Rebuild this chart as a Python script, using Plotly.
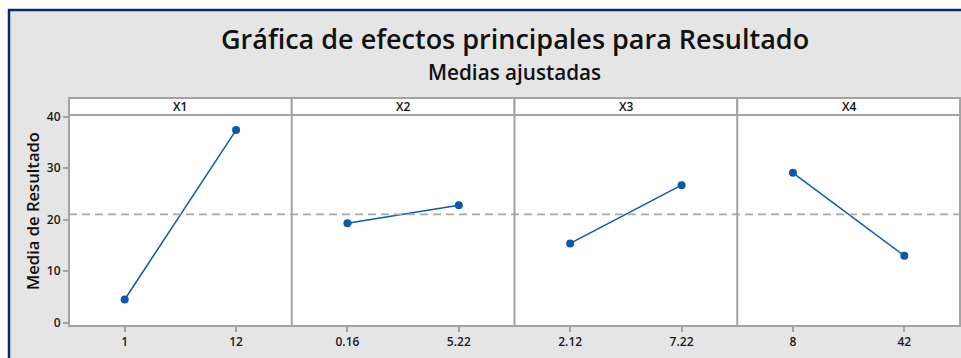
import plotly.graph_objects as go
from plotly.subplots import make_subplots

# Factors and their two levels
factors = ["X1", "X2", "X3", "X4"]
levels = [["1", "12"], ["0.16", "5.22"], ["2.12", "7.22"], ["8", "42"]]

# Fitted means of Resultado at each level
means_x1 = [4.5, 37.4]
means_x2 = [19.3, 22.8]
means_x3 = [15.4, 26.7]
means_x4 = [29.1, 13.0]
level_means = [means_x1, means_x2, means_x3, means_x4]

y_ticks = [0, 10, 20, 30, 40]

# Grand mean of the response (reference line)
grand_mean = sum(sum(m) for m in level_means) / sum(len(m) for m in level_means)

FONT = "Open Sans"
LINE_BLUE = "#0b5aa9"
FRAME = "#a3a3a3"
BG = "#e5e5e5"
NAVY = "#0a2a6b"
TXT = "#111111"

W, H = 961, 358
ML, MR, MT, MB = 69, 1, 98, 32
PW = W - ML - MR
PH = H - MT - MB
HEADER = 17
top_dom = (PH - HEADER) / PH


def px_x(px):
    return (px - ML) / PW


def px_y(py):
    return (H - MB - py) / PH


fig = make_subplots(rows=1, cols=4, shared_yaxes=True, horizontal_spacing=0)

for i, (lv, m) in enumerate(zip(levels, level_means)):
    fig.add_trace(
        go.Scatter(
            x=lv, y=m, mode="lines+markers",
            line=dict(color=LINE_BLUE, width=1.5),
            marker=dict(color=LINE_BLUE, size=8),
            showlegend=False, hoverinfo="x+y",
        ),
        row=1, col=i + 1,
    )
    fig.update_xaxes(
        type="category", range=[-0.5, 1.5],
        showline=False,
        ticks="outside", ticklen=5, tickwidth=1.5, tickcolor=FRAME,
        showgrid=False, zeroline=False,
        tickfont=dict(family=FONT, size=12, color="#1a1a1a", weight=600),
        row=1, col=i + 1,
    )
    fig.update_yaxes(
        range=[-0.64, 40.33], domain=[0, top_dom],
        showline=False, showgrid=False, zeroline=False,
        row=1, col=i + 1,
    )

fig.update_yaxes(
    tickvals=y_ticks, ticks="outside", ticklen=5, tickwidth=1.5, tickcolor=FRAME,
    tickfont=dict(family=FONT, size=12, color="#1a1a1a", weight=600),
    row=1, col=1,
)

shapes = []
annotations = []

# Reference line at the grand mean across all panels
shapes.append(dict(
    type="line", xref="paper", yref="y", x0=0, x1=1, y0=grand_mean, y1=grand_mean,
    line=dict(color="#a8a8a8", width=1.6, dash="8px,5px"), layer="above",
))

# Plot frame and panel dividers
shapes.append(dict(
    type="rect", xref="paper", yref="paper", x0=0, x1=1, y0=0, y1=top_dom,
    fillcolor="rgba(0,0,0,0)", line=dict(color=FRAME, width=2), layer="above",
))
for k in range(1, 4):
    shapes.append(dict(
        type="line", xref="paper", yref="paper", x0=k / 4, x1=k / 4, y0=0, y1=top_dom,
        line=dict(color=FRAME, width=2), layer="above",
    ))

# Panel header strips
for i, name in enumerate(factors):
    x0, x1 = i / 4, (i + 1) / 4
    shapes.append(dict(
        type="rect", xref="paper", yref="paper", x0=x0, x1=x1, y0=top_dom, y1=1,
        fillcolor="white", line=dict(color=FRAME, width=2),
    ))
    annotations.append(dict(
        text=name, xref="paper", yref="paper", x=(x0 + x1) / 2, y=(top_dom + 1) / 2,
        showarrow=False, xanchor="center", yanchor="middle",
        font=dict(family=FONT, size=12, color=TXT, weight=600),
    ))

# Outer frame: white margin and navy edge
shapes.append(dict(type="rect", xref="paper", yref="paper",
                   x0=px_x(-20), x1=px_x(8), y0=px_y(400), y1=px_y(-20),
                   fillcolor="white", line=dict(width=0)))
shapes.append(dict(type="rect", xref="paper", yref="paper",
                   x0=px_x(-20), x1=px_x(1000), y0=px_y(9), y1=px_y(-20),
                   fillcolor="white", line=dict(width=0)))
shapes.append(dict(type="rect", xref="paper", yref="paper",
                   x0=px_x(9), x1=px_x(1000), y0=px_y(400), y1=px_y(10),
                   fillcolor="rgba(0,0,0,0)", line=dict(color=NAVY, width=2.5)))

annotations.append(dict(
    text="Gráfica de efectos principales para Resultado",
    xref="paper", yref="paper", x=0.5, y=px_y(38),
    showarrow=False, xanchor="center", yanchor="middle",
    font=dict(family=FONT, size=27, color=TXT, weight=600),
))
annotations.append(dict(
    text="Medias ajustadas",
    xref="paper", yref="paper", x=0.5, y=px_y(72),
    showarrow=False, xanchor="center", yanchor="middle",
    font=dict(family=FONT, size=20.7, color=TXT, weight=600),
))
annotations.append(dict(
    text="Media de Resultado",
    xref="paper", yref="paper", x=px_x(32), y=px_y(211),
    showarrow=False, xanchor="center", yanchor="middle", textangle=-90,
    font=dict(family=FONT, size=16.6, color=TXT, weight=600),
))

fig.update_layout(
    width=W, height=H,
    margin=dict(l=ML, r=MR, t=MT, b=MB),
    paper_bgcolor=BG, plot_bgcolor="white",
    shapes=shapes, annotations=annotations,
    showlegend=False,
)

fig.write_html("out.html")
